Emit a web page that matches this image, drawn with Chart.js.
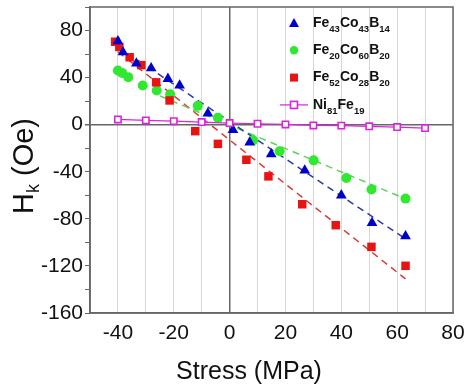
<!DOCTYPE html>
<html><head><meta charset="utf-8">
<script src="https://cdn.jsdelivr.net/npm/chart.js@4/dist/chart.umd.min.js"></script>
<style>html,body{margin:0;padding:0;background:#fff}#wrap{width:465px;height:384px;position:relative}</style>
</head><body><div id="wrap"><canvas id="c" width="465" height="384"></canvas></div>
<script>
// ---- data ----
const xTickLabels = [-40, -20, 0, 20, 40, 60, 80];
const yTickLabels = [80, 40, 0, -40, -80, -120, -160];
const seriesNames = ['Fe43Co43B14', 'Fe20Co60B20', 'Fe52Co28B20', 'Ni81Fe19'];
const xTitle = 'Stress (MPa)';
const yTitle = 'Hk (Oe)';

const fe43X = [-40, -38.2, -33.4, -28.1, -22.1, -17.9, -7.8, 1.2, 7.2, 14.9, 26.9, 40, 51, 63];
const fe43Y = [71, 61.6, 52, 48, 39, 33.3, 9.5, -4.5, -15, -25, -38.8, -60, -83.5, -94.7];

const fe20X = [-40, -38.5, -36.3, -31.1, -26.1, -21.3, -11.4, -4.2, 8.4, 17.9, 30.1, 41.8, 50.8, 63];
const fe20Y = [46, 44, 40.4, 33.3, 29.1, 25.8, 16, 5.9, -13.3, -22.6, -30.3, -45.3, -55.1, -62.8];

const fe52X = [-41, -39.5, -35.8, -31.6, -26.3, -21.5, -12.3, -4.2, 6, 13.9, 26, 38, 50.8, 63];
const fe52Y = [70.5, 66, 57.3, 50.6, 36, 20.6, -5.5, -16.3, -29.8, -43.9, -67.6, -85.4, -103.8, -119.9];

const niX = [-40, -30, -20, -10, 0, 10, 20, 30, 40, 50, 60, 70];
const niY = [4.5, 3.6, 3, 2.2, 1.4, 0.8, 0.2, -0.6, -0.8, -1.4, -2, -2.9];

// dashed linear fits (end points)
const fe43FitX = [-40, 63];
const fe43FitY = [66, -97];
const fe20FitX = [-25, 63];
const fe20FitY = [24.5, -63];
const fe52FitX = [-40, 63];
const fe52FitY = [62, -131];

const pts = (xs, ys) => xs.map((x, i) => ({x: x, y: ys[i]}));

const BLUE = '#0000cc', GREEN = '#30e830', RED = '#e81414', MAG = '#dd22dd';
const FONT = "'Liberation Sans', Arial, sans-serif";

const data = {
  datasets: [
    {label: seriesNames[3], data: pts(niX, niY), showLine: true, borderColor: MAG, borderWidth: 1.2,
     pointStyle: 'rect', pointRadius: 4.5, pointBorderWidth: 1.6, pointBorderColor: MAG, pointBackgroundColor: '#fff', order: 1},
    {label: seriesNames[0], data: pts(fe43X, fe43Y), showLine: false, pointStyle: 'triangle', pointRadius: 6.2,
     backgroundColor: BLUE, borderColor: BLUE, pointBorderWidth: 0, order: 2},
    {label: seriesNames[2], data: pts(fe52X, fe52Y), showLine: false, pointStyle: 'rect', pointRadius: 6,
     backgroundColor: RED, borderColor: RED, pointBorderWidth: 0, order: 3},
    {label: seriesNames[1], data: pts(fe20X, fe20Y), showLine: false, pointStyle: 'circle', pointRadius: 5,
     backgroundColor: GREEN, borderColor: GREEN, pointBorderWidth: 0, order: 4},
    {label: 'fit1', data: pts(fe43FitX, fe43FitY), showLine: true, pointRadius: 0, borderColor: '#2a3aa8', borderWidth: 1.5, borderDash: [7, 5], order: 5},
    {label: 'fit2', data: pts(fe20FitX, fe20FitY), showLine: true, pointRadius: 0, borderColor: '#5ad45a', borderWidth: 1.5, borderDash: [7, 5], order: 6},
    {label: 'fit3', data: pts(fe52FitX, fe52FitY), showLine: true, pointRadius: 0, borderColor: '#d83a3a', borderWidth: 1.5, borderDash: [7, 5], order: 7}
  ]
};

function drawRich(ctx, text, x, y, bigFont, smallFont, subDy) {
  // digits rendered as subscripts
  const parts = text.match(/\d+|\D+/g);
  let cx = x;
  for (const p of parts) {
    const isSub = /^\d+$/.test(p);
    ctx.font = isSub ? smallFont : bigFont;
    ctx.fillText(p, cx, y + (isSub ? subDy : 0));
    cx += ctx.measureText(p).width;
  }
  return cx;
}

const decor = {
  id: 'decor',
  afterDraw(chart) {
    const ctx = chart.ctx, a = chart.chartArea;
    ctx.save();
    // frame
    ctx.strokeStyle = '#666'; ctx.lineWidth = 1.5;
    ctx.strokeRect(a.left, a.top, a.right - a.left, a.bottom - a.top);
    // legend
    const markers = ['triangle', 'circle', 'rect', 'ni'];
    const colors = [BLUE, GREEN, RED, MAG];
    const lx = 294, ly0 = 23, dy = 27.3;
    ctx.textBaseline = 'middle';
    ctx.textAlign = 'left';
    for (let i = 0; i < 4; i++) {
      const y = ly0 + i * dy;
      ctx.fillStyle = colors[i]; ctx.strokeStyle = colors[i];
      if (markers[i] === 'triangle') {
        ctx.beginPath(); ctx.moveTo(lx, y - 5); ctx.lineTo(lx + 5, y + 4); ctx.lineTo(lx - 5, y + 4); ctx.closePath(); ctx.fill();
      } else if (markers[i] === 'circle') {
        ctx.beginPath(); ctx.arc(lx, y, 4.2, 0, Math.PI * 2); ctx.fill();
      } else if (markers[i] === 'rect') {
        ctx.fillRect(lx - 4, y - 4, 8, 8);
      } else {
        ctx.lineWidth = 1.2;
        ctx.beginPath(); ctx.moveTo(lx - 14, y); ctx.lineTo(lx + 14, y); ctx.stroke();
        ctx.fillStyle = '#fff'; ctx.fillRect(lx - 3.5, y - 3.5, 7, 7);
        ctx.lineWidth = 1.6; ctx.strokeRect(lx - 3.5, y - 3.5, 7, 7);
      }
      ctx.fillStyle = '#111';
      drawRich(ctx, seriesNames[i], 313, y, 'bold 14px ' + FONT, 'bold 9.5px ' + FONT, 6);
    }
    // x title
    ctx.fillStyle = '#111';
    ctx.textBaseline = 'alphabetic';
    ctx.textAlign = 'center';
    ctx.font = '25px ' + FONT;
    ctx.fillText(xTitle, 249, 379);
    // y title with subscript k
    ctx.translate(33, 166);
    ctx.rotate(-Math.PI / 2);
    ctx.textAlign = 'left';
    const big = '29px ' + FONT, small = '18px ' + FONT;
    ctx.font = big; const wH = ctx.measureText(yTitle[0]).width;
    ctx.font = small; const wk = ctx.measureText(yTitle[1]).width;
    ctx.font = big; const wr = ctx.measureText(yTitle.slice(2)).width;
    let x0 = -(wH + wk + wr) / 2;
    ctx.font = big; ctx.fillText(yTitle[0], x0, 0); x0 += wH;
    ctx.font = small; ctx.fillText(yTitle[1], x0, 6); x0 += wk;
    ctx.font = big; ctx.fillText(yTitle.slice(2), x0, 0);
    ctx.restore();
  }
};

new Chart(document.getElementById('c'), {
  type: 'scatter',
  data: data,
  plugins: [decor],
  options: {
    responsive: false,
    animation: false,
    layout: {padding: {top: 7, right: 12, left: 0, bottom: 0}},
    plugins: {legend: {display: false}, tooltip: {enabled: false}},
    scales: {
      x: {
        type: 'linear', min: -50, max: 80,
        afterFit: s => { s.height = 71; s.paddingLeft = 0; s.paddingRight = 0; },
        ticks: {stepSize: 10, autoSkip: false, maxRotation: 0, color: '#111', padding: 8,
          font: {size: 21, family: FONT},
          callback: v => xTickLabels.includes(v) ? String(v) : ''},
        grid: {drawTicks: false,
          color: c => (c.tick && c.tick.value === 0) ? '#666' : '#d6d6d6',
          lineWidth: c => (c.tick && c.tick.value === 0) ? 1.5 : 1},
        border: {color: '#666', width: 1.5}
      },
      y: {
        type: 'linear', min: -160, max: 100,
        afterFit: s => { s.width = 90; s.paddingTop = 0; s.paddingBottom = 0; },
        ticks: {stepSize: 20, autoSkip: false, color: '#111', padding: 2,
          font: {size: 21, family: FONT},
          callback: v => yTickLabels.includes(v) ? String(v) : ''},
        grid: {drawTicks: true, tickLength: 5, tickColor: '#666',
          color: c => (c.tick && c.tick.value === 0) ? '#666' : 'rgba(0,0,0,0)',
          lineWidth: c => (c.tick && c.tick.value === 0) ? 1.5 : 1},
        border: {color: '#666', width: 1.5}
      }
    }
  }
});
</script></body></html>
